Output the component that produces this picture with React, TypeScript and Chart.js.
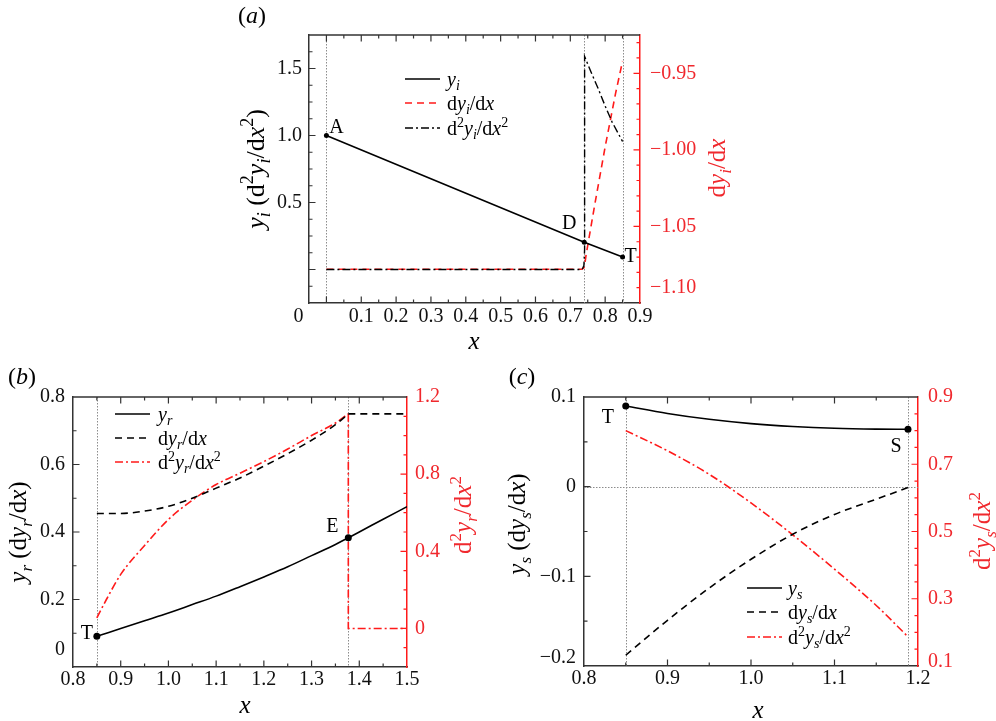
import React, { useEffect, useRef } from 'react';
import { Chart, registerables } from 'chart.js';

Chart.register(...registerables);

const W = 996;
const H = 721;
const SERIF = "'Liberation Serif', 'DejaVu Serif', serif";
const RED = '#ff1a1a';
const RED_TXT = '#f0282d';
const INK = '#000000';
const AXIS = '#333333';
const GUIDE = '#8c8c8c';

Chart.defaults.font.family = SERIF;

// ---------------- Panel (a) data ----------------
const A_X_LABELS = [0.1, 0.2, 0.3, 0.4, 0.5, 0.6, 0.7, 0.8, 0.9];
const A_Y_LABELS = [0.5, 1.0, 1.5];
const A_Y2_LABELS = [-1.05, -1.0, -0.95];
const A_X_MAJOR = [0, 0.1, 0.2, 0.3, 0.4, 0.5, 0.6, 0.7, 0.8, 0.9];
const A_Y_MAJOR = [0, 0.5, 1.0, 1.5];
const A_Y2_MAJOR = [-1.1, -1.05, -1.0, -0.95];

const A_YI_X = [0, 0.74, 0.85];
const A_YI = [1.0, 0.204, 0.093];
const A_DYI_X = [0, 0.733, 0.739, 0.742, 0.745, 0.77, 0.8, 0.83, 0.85];
const A_DYI = [-1.078, -1.078, -1.077, -1.074, -1.069, -1.036, -0.998, -0.963, -0.942];
const A_D2YI_X = [0, 0.734, 0.739, 0.741, 0.741, 0.76, 0.78, 0.8, 0.82, 0.85];
const A_D2YI = [0, 0, 0.03, 0.15, 1.59, 1.47, 1.35, 1.22, 1.1, 0.955];
const A_MARK_X = [0, 0.74, 0.85];
const A_MARK_Y = [1.0, 0.204, 0.093];
const A_MARK_NAMES = ['A', 'D', 'T'];
const A_GUIDE_X = [0, 0.74, 0.85];

// ---------------- Panel (b) data ----------------
const B_X_LABELS = [0.8, 0.9, 1.0, 1.1, 1.2, 1.3, 1.4, 1.5];
const B_Y_LABELS = [0.2, 0.4, 0.6, 0.8];
const B_Y2_LABELS = [0, 0.4, 0.8, 1.2];
const B_X_MAJOR = [0.8, 0.9, 1.0, 1.1, 1.2, 1.3, 1.4, 1.5];
const B_Y_MAJOR = [0, 0.2, 0.4, 0.6, 0.8];
const B_Y2_MAJOR = [0, 0.4, 0.8, 1.2];

const B_YR_X = [0.85, 0.9, 0.95, 1.0, 1.05, 1.1, 1.15, 1.2, 1.25, 1.3, 1.35, 1.377, 1.4, 1.45, 1.5];
const B_YR = [0.091, 0.114, 0.137, 0.16, 0.185, 0.21, 0.238, 0.267, 0.297, 0.33, 0.363, 0.383, 0.4, 0.438, 0.475];
const B_DYR_X = [0.85, 0.9, 0.95, 1.0, 1.05, 1.1, 1.15, 1.2, 1.25, 1.3, 1.35, 1.377];
const B_DYR = [0.455, 0.455, 0.462, 0.476, 0.5, 0.53, 0.56, 0.595, 0.632, 0.672, 0.718, 0.75];
const B_DYR_TAIL_X = [1.377, 1.5];
const B_DYR_TAIL = [0.75, 0.75];
const B_D2_X = [0.85, 0.87, 0.9, 0.95, 1.0, 1.05, 1.1, 1.15, 1.2, 1.25, 1.3, 1.35, 1.377];
const B_D2 = [0.055, 0.15, 0.28, 0.43, 0.565, 0.665, 0.746, 0.805, 0.865, 0.93, 1.0, 1.065, 1.113];
const B_D2_TAIL_X = [1.377, 1.377, 1.5];
const B_D2_TAIL = [1.113, 0, 0];
const B_MARK_X = [0.85, 1.377];
const B_MARK_Y = [0.091, 0.383];
const B_MARK_NAMES = ['T', 'E'];
const B_GUIDE_X = [0.85, 1.377];

// ---------------- Panel (c) data ----------------
const C_X_LABELS = [0.8, 0.9, 1.0, 1.1, 1.2];
const C_Y_LABELS = [-0.1, 0, 0.1];
const C_Y2_LABELS = [0.3, 0.5, 0.7, 0.9];
const C_X_MAJOR = [0.8, 0.9, 1.0, 1.1, 1.2];
const C_Y_MAJOR = [-0.2, -0.1, 0, 0.1];
const C_Y2_MAJOR = [0.1, 0.3, 0.5, 0.7, 0.9];

const C_X = [0.85, 0.9, 0.95, 1.0, 1.05, 1.1, 1.15, 1.188];
const C_YS = [0.09, 0.0816, 0.0751, 0.0703, 0.0671, 0.0651, 0.0642, 0.064];
const C_DYS = [-0.188, -0.149, -0.113, -0.081, -0.053, -0.031, -0.014, -0.001];
const C_D2YS = [0.8, 0.74, 0.67, 0.585, 0.49, 0.388, 0.28, 0.187];
const C_MARK_X = [0.85, 1.188];
const C_MARK_Y = [0.09, 0.064];
const C_MARK_NAMES = ['T', 'S'];
const C_GUIDE_X = [0.85, 1.188];
const C_GUIDE_Y = [0];

// ---------------- rich text helpers ----------------
type Seg = { t: string; i?: boolean; s?: 'b' | 'p' };
const rm = (t: string): Seg => ({ t });
const it = (t: string): Seg => ({ t, i: true });
const sb = (t: string): Seg => ({ t, i: true, s: 'b' });
const sp = (t: string): Seg => ({ t, s: 'p' });

const fontOf = (s: Seg, size: number) =>
  `${s.i ? 'italic ' : ''}${s.s ? Math.round(size * 0.68) : size}px ${SERIF}`;

function drawRich(ctx: CanvasRenderingContext2D, segs: Seg[], x: number, y: number, size: number,
  color: string, rot = 0, align: 'center' | 'left' = 'center') {
  ctx.save();
  ctx.translate(x, y);
  if (rot) ctx.rotate(rot);
  let w = 0;
  const widths = segs.map((s) => {
    ctx.font = fontOf(s, size);
    const m = ctx.measureText(s.t).width;
    w += m;
    return m;
  });
  let cx = align === 'center' ? -w / 2 : 0;
  ctx.fillStyle = color;
  ctx.textAlign = 'left';
  ctx.textBaseline = 'alphabetic';
  const base = size * 0.33;
  segs.forEach((s, k) => {
    ctx.font = fontOf(s, size);
    const dy = s.s === 'b' ? size * 0.24 : s.s === 'p' ? -size * 0.4 : 0;
    ctx.fillText(s.t, cx, base + dy);
    cx += widths[k];
  });
  ctx.restore();
}

const fmt = (v: number, dec: number) => {
  if (Math.abs(v) < 1e-9) return '0';
  return v.toFixed(dec).replace('-', '\u2212');
};

// ---------------- spec types ----------------
interface AxisSpec {
  min: number; max: number; labels: number[]; major: number[]; minorStep: number;
  dec: number; pad: number; color: string; border: string;
}
interface LineSpec { xs: number[]; ys: number[]; axis: 'y' | 'y2'; color: string; width: number; dash: number[]; smooth: boolean; }
interface TextSpec { segs: Seg[]; x: number; y: number; size: number; color: string; rot?: number; }
interface LegendItem { segs: Seg[]; color: string; dash: number[]; width: number; }
interface OffLabel { axis: 'x' | 'y' | 'y2'; value: number; text: string; dx: number; dy: number; }
interface PanelSpec {
  L: number; R: number; T: number; B: number; font: number;
  x: AxisSpec; y: AxisSpec; y2: AxisSpec;
  lines: LineSpec[];
  marks: { xs: number[]; ys: number[]; names: string[]; offsets: number[][]; r: number; size: number };
  guidesX: number[]; guidesY: number[];
  offLabels: OffLabel[];
  texts: TextSpec[];
  legend: { x0: number; x1: number; xt: number; rows: number[]; size: number; items: LegendItem[] };
}

const SOLID: number[] = [];
const DASH = [7, 5];
const DASHDOT = [8, 3, 2, 3];

const lgYi = [it('y'), sb('i')];
const lgDyi = [rm('d'), it('y'), sb('i'), rm('/d'), it('x')];
const lgD2yi = [rm('d'), sp('2'), it('y'), sb('i'), rm('/d'), it('x'), sp('2')];

const PANEL_A: PanelSpec = {
  L: 309, R: 640, T: 35, B: 303, font: 20,
  x: { min: -0.05, max: 0.9, labels: A_X_LABELS, major: A_X_MAJOR, minorStep: 0.05, dec: 1, pad: 2, color: '#111', border: AXIS },
  y: { min: -0.25, max: 1.75, labels: A_Y_LABELS, major: A_Y_MAJOR, minorStep: 0.125, dec: 1, pad: 7, color: '#111', border: AXIS },
  y2: { min: -1.1, max: -0.925, labels: A_Y2_LABELS, major: A_Y2_MAJOR, minorStep: 0.01, dec: 2, pad: 10, color: RED_TXT, border: RED },
  lines: [
    { xs: A_YI_X, ys: A_YI, axis: 'y', color: INK, width: 1.6, dash: SOLID, smooth: false },
    { xs: A_D2YI_X, ys: A_D2YI, axis: 'y', color: INK, width: 1.4, dash: DASHDOT, smooth: false },
    { xs: A_DYI_X, ys: A_DYI, axis: 'y2', color: RED, width: 1.6, dash: DASH, smooth: false },
  ],
  marks: { xs: A_MARK_X, ys: A_MARK_Y, names: A_MARK_NAMES, offsets: [[10, -9], [-15, -20], [8, -2]], r: 2.5, size: 20 },
  guidesX: A_GUIDE_X, guidesY: [],
  offLabels: [
    { axis: 'x', value: 0, text: '0', dx: -28, dy: 0 },
    { axis: 'y2', value: -1.1, text: '\u22121.10', dx: 0, dy: -15 },
  ],
  texts: [
    { segs: [rm('('), it('a'), rm(')')], x: 252, y: 15, size: 24, color: INK },
    { segs: [it('y'), sb('i'), rm(' (d'), sp('2'), it('y'), sb('i'), rm('/d'), it('x'), sp('2'), rm(')')], x: 255, y: 169, size: 26, color: INK, rot: -Math.PI / 2 },
    { segs: [rm('d'), it('y'), sb('i'), rm('/d'), it('x')], x: 717, y: 168, size: 25, color: RED_TXT, rot: -Math.PI / 2 },
    { segs: [it('x')], x: 474, y: 341, size: 25, color: INK },
  ],
  legend: {
    x0: 405, x1: 440, xt: 447, rows: [79, 103, 128], size: 20,
    items: [
      { segs: lgYi, color: INK, dash: SOLID, width: 1.6 },
      { segs: lgDyi, color: RED, dash: DASH, width: 1.6 },
      { segs: lgD2yi, color: INK, dash: DASHDOT, width: 1.4 },
    ],
  },
};

const PANEL_B: PanelSpec = {
  L: 73, R: 407, T: 397, B: 667, font: 20,
  x: { min: 0.8, max: 1.5, labels: B_X_LABELS, major: B_X_MAJOR, minorStep: 0.05, dec: 1, pad: 1, color: '#111', border: AXIS },
  y: { min: 0, max: 0.8, labels: B_Y_LABELS, major: B_Y_MAJOR, minorStep: 0.1, dec: 1, pad: 8, color: '#111', border: AXIS },
  y2: { min: -0.2, max: 1.2, labels: B_Y2_LABELS, major: B_Y2_MAJOR, minorStep: 0.1, dec: 1, pad: 8, color: RED_TXT, border: RED },
  lines: [
    { xs: B_YR_X, ys: B_YR, axis: 'y', color: INK, width: 1.6, dash: SOLID, smooth: true },
    { xs: B_DYR_X, ys: B_DYR, axis: 'y', color: INK, width: 1.6, dash: DASH, smooth: true },
    { xs: B_DYR_TAIL_X, ys: B_DYR_TAIL, axis: 'y', color: INK, width: 1.6, dash: DASH, smooth: false },
    { xs: B_D2_X, ys: B_D2, axis: 'y2', color: RED, width: 1.6, dash: DASHDOT, smooth: true },
    { xs: B_D2_TAIL_X, ys: B_D2_TAIL, axis: 'y2', color: RED, width: 1.6, dash: DASHDOT, smooth: false },
  ],
  marks: { xs: B_MARK_X, ys: B_MARK_Y, names: B_MARK_NAMES, offsets: [[-10, -4], [-16, -12]], r: 3.5, size: 20 },
  guidesX: B_GUIDE_X, guidesY: [],
  offLabels: [{ axis: 'y', value: 0, text: '0', dx: 0, dy: -17 }],
  texts: [
    { segs: [rm('('), it('b'), rm(')')], x: 22, y: 376, size: 24, color: INK },
    { segs: [it('y'), sb('r'), rm(' (d'), it('y'), sb('r'), rm('/d'), it('x'), rm(')')], x: 18, y: 532, size: 25, color: INK, rot: -Math.PI / 2 },
    { segs: [rm('d'), sp('2'), it('y'), sb('r'), rm('/d'), it('x'), sp('2')], x: 463, y: 515, size: 25, color: RED_TXT, rot: -Math.PI / 2 },
    { segs: [it('x')], x: 245, y: 705, size: 25, color: INK },
  ],
  legend: {
    x0: 115, x1: 150, xt: 158, rows: [414, 438, 462], size: 20,
    items: [
      { segs: [it('y'), sb('r')], color: INK, dash: SOLID, width: 1.6 },
      { segs: [rm('d'), it('y'), sb('r'), rm('/d'), it('x')], color: INK, dash: DASH, width: 1.6 },
      { segs: [rm('d'), sp('2'), it('y'), sb('r'), rm('/d'), it('x'), sp('2')], color: RED, dash: DASHDOT, width: 1.6 },
    ],
  },
};

const PANEL_C: PanelSpec = {
  L: 584, R: 918, T: 397, B: 666, font: 20,
  x: { min: 0.8, max: 1.2, labels: C_X_LABELS, major: C_X_MAJOR, minorStep: 0.05, dec: 1, pad: 1, color: '#111', border: AXIS },
  y: { min: -0.2, max: 0.1, labels: C_Y_LABELS, major: C_Y_MAJOR, minorStep: 0.05, dec: 1, pad: 8, color: '#111', border: AXIS },
  y2: { min: 0.1, max: 0.9, labels: C_Y2_LABELS, major: C_Y2_MAJOR, minorStep: 0.05, dec: 1, pad: 10, color: RED_TXT, border: RED },
  lines: [
    { xs: C_X, ys: C_YS, axis: 'y', color: INK, width: 1.6, dash: SOLID, smooth: true },
    { xs: C_X, ys: C_DYS, axis: 'y', color: INK, width: 1.6, dash: DASH, smooth: true },
    { xs: C_X, ys: C_D2YS, axis: 'y2', color: RED, width: 1.6, dash: DASHDOT, smooth: true },
  ],
  marks: { xs: C_MARK_X, ys: C_MARK_Y, names: C_MARK_NAMES, offsets: [[-18, 10], [-12, 16]], r: 3.5, size: 20 },
  guidesX: C_GUIDE_X, guidesY: C_GUIDE_Y,
  offLabels: [
    { axis: 'y', value: -0.2, text: '\u22120.2', dx: 0, dy: -8 },
    { axis: 'y2', value: 0.1, text: '0.1', dx: 0, dy: -4 },
  ],
  texts: [
    { segs: [rm('('), it('c'), rm(')')], x: 522, y: 376, size: 24, color: INK },
    { segs: [it('y'), sb('s'), rm(' (d'), it('y'), sb('s'), rm('/d'), it('x'), rm(')')], x: 517, y: 524, size: 25, color: INK, rot: -Math.PI / 2 },
    { segs: [rm('d'), sp('2'), it('y'), sb('s'), rm('/d'), it('x'), sp('2')], x: 982, y: 531, size: 25, color: RED_TXT, rot: -Math.PI / 2 },
    { segs: [it('x')], x: 758, y: 710, size: 25, color: INK },
  ],
  legend: {
    x0: 747, x1: 782, xt: 788, rows: [588, 612, 637], size: 20,
    items: [
      { segs: [it('y'), sb('s')], color: INK, dash: SOLID, width: 1.6 },
      { segs: [rm('d'), it('y'), sb('s'), rm('/d'), it('x')], color: INK, dash: DASH, width: 1.6 },
      { segs: [rm('d'), sp('2'), it('y'), sb('s'), rm('/d'), it('x'), sp('2')], color: RED, dash: DASHDOT, width: 1.6 },
    ],
  },
};

// ---------------- chart building ----------------
const Y_W = 60;
const Y2_W = 75;
const X_H = 34;

function minorValues(a: AxisSpec): number[] {
  const out: number[] = [];
  const start = Math.ceil((a.min - 1e-9) / a.minorStep);
  const end = Math.floor((a.max + 1e-9) / a.minorStep);
  for (let k = start; k <= end; k++) {
    const v = Math.round(k * a.minorStep * 1e6) / 1e6;
    if (!a.major.some((m) => Math.abs(m - v) < 1e-6)) out.push(v);
  }
  return out;
}

function axisOpts(axis: 'x' | 'y', position: string, a: AxisSpec, font: number, size: number) {
  return {
    type: 'linear',
    axis,
    position,
    min: a.min,
    max: a.max,
    grid: { display: false, drawTicks: false },
    border: { display: true, color: a.border, width: 1.5 },
    ticks: {
      autoSkip: false,
      maxRotation: 0,
      minRotation: 0,
      padding: a.pad,
      color: a.color,
      font: { family: SERIF, size: font },
      callback: (v: number) => fmt(Number(v), a.dec),
    },
    afterBuildTicks: (sc: any) => {
      sc.ticks = a.labels.map((v) => ({ value: v }));
    },
    afterFit: (sc: any) => {
      if (axis === 'x') sc.height = size;
      else sc.width = size;
    },
  };
}

function decorPlugin(s: PanelSpec) {
  return {
    id: 'decor',
    beforeDatasetsDraw(chart: any) {
      const ctx: CanvasRenderingContext2D = chart.ctx;
      const { left, right, top, bottom } = chart.chartArea;
      ctx.save();
      ctx.strokeStyle = GUIDE;
      ctx.lineWidth = 1;
      ctx.setLineDash([1.5, 1.5]);
      ctx.beginPath();
      s.guidesX.forEach((v) => {
        const p = Math.round(chart.scales.x.getPixelForValue(v)) + 0.5;
        ctx.moveTo(p, top);
        ctx.lineTo(p, bottom);
      });
      s.guidesY.forEach((v) => {
        const p = Math.round(chart.scales.y.getPixelForValue(v)) + 0.5;
        ctx.moveTo(left, p);
        ctx.lineTo(right, p);
      });
      ctx.stroke();
      ctx.restore();
    },
    afterDraw(chart: any) {
      const ctx: CanvasRenderingContext2D = chart.ctx;
      const area = chart.chartArea;
      const { left, right, top, bottom } = area;
      ctx.save();
      ctx.setLineDash([]);

      const marks = (scale: any, a: AxisSpec, side: string, color: string) => {
        const vals: number[][] = [
          ...a.major.map((v) => [v, 6.5]),
          ...minorValues(a).map((v) => [v, 3.5]),
        ];
        ctx.strokeStyle = color;
        ctx.lineWidth = 1.2;
        ctx.beginPath();
        vals.forEach(([v, len]) => {
          const p = scale.getPixelForValue(v);
          if (side === 'bottom' || side === 'top') {
            if (p < left + 1 || p > right - 1) return;
            if (side === 'bottom') { ctx.moveTo(p, bottom); ctx.lineTo(p, bottom - len); }
            else { ctx.moveTo(p, top); ctx.lineTo(p, top + len); }
          } else {
            if (p < top + 1 || p > bottom - 1) return;
            if (side === 'left') { ctx.moveTo(left, p); ctx.lineTo(left + len, p); }
            else { ctx.moveTo(right, p); ctx.lineTo(right - len, p); }
          }
        });
        ctx.stroke();
      };
      marks(chart.scales.x, s.x, 'bottom', AXIS);
      marks(chart.scales.x, s.x, 'top', AXIS);
      marks(chart.scales.y, s.y, 'left', AXIS);
      marks(chart.scales.y2, s.y2, 'right', RED);

      ctx.strokeStyle = AXIS;
      ctx.lineWidth = 1.5;
      ctx.beginPath();
      ctx.moveTo(left - 0.75, top);
      ctx.lineTo(right, top);
      ctx.stroke();

      s.offLabels.forEach((o) => {
        const a = (s as any)[o.axis] as AxisSpec;
        const sc = chart.scales[o.axis];
        ctx.font = `${s.font}px ${SERIF}`;
        ctx.fillStyle = a.color;
        ctx.textBaseline = 'middle';
        let x = 0;
        let y = 0;
        if (o.axis === 'x') {
          ctx.textAlign = 'center';
          x = sc.getPixelForValue(o.value) + o.dx;
          y = bottom + a.pad + s.font * 0.6 + o.dy;
        } else if (o.axis === 'y') {
          ctx.textAlign = 'right';
          x = left - a.pad + o.dx;
          y = sc.getPixelForValue(o.value) + o.dy;
        } else {
          ctx.textAlign = 'left';
          x = right + a.pad + o.dx;
          y = sc.getPixelForValue(o.value) + o.dy;
        }
        ctx.fillText(o.text, x, y);
      });

      s.marks.names.forEach((n, i) => {
        const px = chart.scales.x.getPixelForValue(s.marks.xs[i]) + s.marks.offsets[i][0];
        const py = chart.scales.y.getPixelForValue(s.marks.ys[i]) + s.marks.offsets[i][1];
        drawRich(ctx, [rm(n)], px, py, s.marks.size, INK);
      });

      s.texts.forEach((t) => drawRich(ctx, t.segs, t.x, t.y, t.size, t.color, t.rot || 0));

      const lg = s.legend;
      lg.items.forEach((item, i) => {
        const y = lg.rows[i];
        ctx.strokeStyle = item.color;
        ctx.lineWidth = item.width;
        ctx.setLineDash(item.dash);
        ctx.beginPath();
        ctx.moveTo(lg.x0, y);
        ctx.lineTo(lg.x1, y);
        ctx.stroke();
        ctx.setLineDash([]);
        drawRich(ctx, item.segs, lg.xt, y, lg.size, INK, 0, 'left');
      });
      ctx.restore();
    },
  };
}

function buildConfig(s: PanelSpec): any {
  const datasets: any[] = [
    {
      data: s.marks.xs.map((x, i) => ({ x, y: s.marks.ys[i] })),
      xAxisID: 'x',
      yAxisID: 'y',
      showLine: false,
      pointRadius: s.marks.r,
      pointBackgroundColor: INK,
      pointBorderColor: INK,
      pointBorderWidth: 0,
    },
    ...s.lines.map((l) => ({
      data: l.xs.map((x, i) => ({ x, y: l.ys[i] })),
      xAxisID: 'x',
      yAxisID: l.axis,
      showLine: true,
      borderColor: l.color,
      borderWidth: l.width,
      borderDash: l.dash,
      pointRadius: 0,
      fill: false,
      tension: 0,
      cubicInterpolationMode: l.smooth ? 'monotone' : 'default',
    })),
  ];
  return {
    type: 'scatter',
    data: { datasets },
    options: {
      responsive: false,
      animation: false,
      devicePixelRatio: 1,
      events: [],
      layout: {
        padding: {
          left: s.L - Y_W,
          right: W - s.R - Y2_W,
          top: s.T,
          bottom: H - s.B - X_H,
        },
      },
      plugins: {
        legend: { display: false },
        tooltip: { enabled: false },
        title: { display: false },
      },
      scales: {
        x: axisOpts('x', 'bottom', s.x, s.font, X_H),
        y: axisOpts('y', 'left', s.y, s.font, Y_W),
        y2: axisOpts('y', 'right', s.y2, s.font, Y2_W),
      },
    },
    plugins: [decorPlugin(s)],
  };
}

function Panel({ spec }: { spec: PanelSpec }) {
  const ref = useRef<HTMLCanvasElement>(null);
  useEffect(() => {
    if (!ref.current) return;
    const chart = new Chart(ref.current, buildConfig(spec));
    return () => chart.destroy();
  }, [spec]);
  return (
    <canvas
      ref={ref}
      width={W}
      height={H}
      style={{ position: 'absolute', left: 0, top: 0, width: W, height: H }}
    />
  );
}

export default function App() {
  return (
    <div
      style={{
        position: 'fixed',
        left: 0,
        top: 0,
        width: W,
        height: H,
        background: '#ffffff',
        overflow: 'hidden',
        fontFamily: SERIF,
      }}
    >
      <Panel spec={PANEL_A} />
      <Panel spec={PANEL_B} />
      <Panel spec={PANEL_C} />
    </div>
  );
}
